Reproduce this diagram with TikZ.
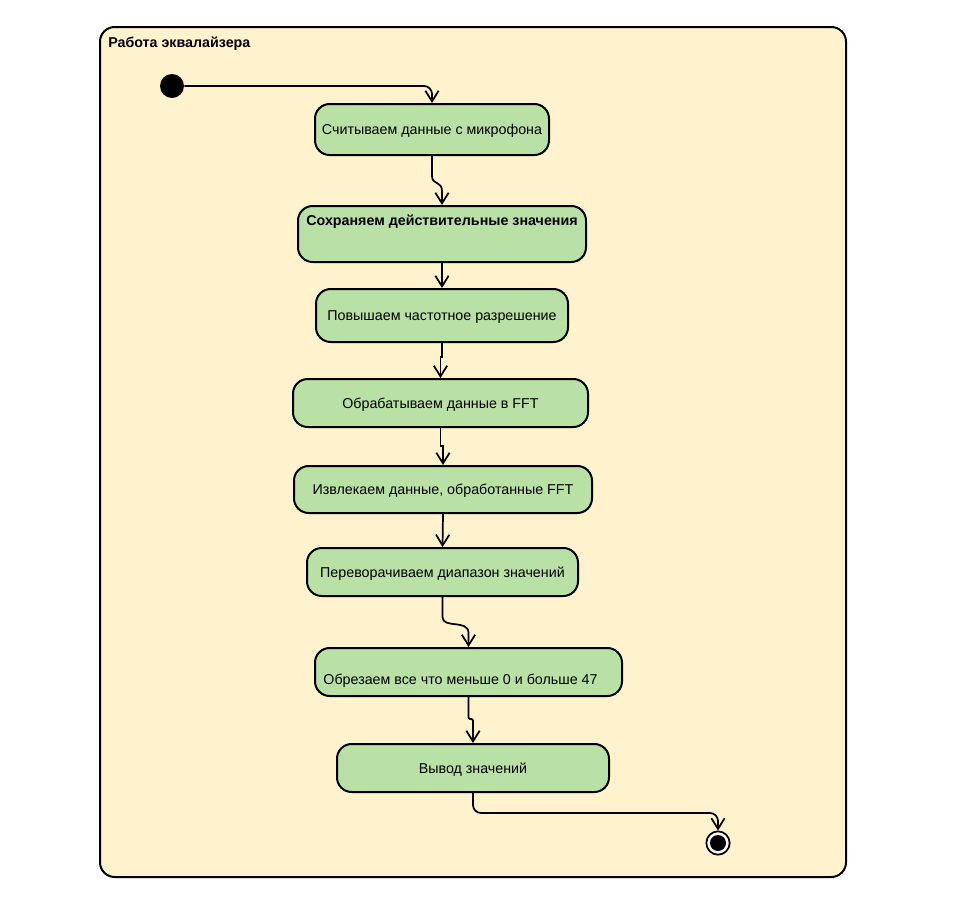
\documentclass[tikz,border=0pt]{standalone}
\usepackage{fontspec}
\setmainfont{Liberation Sans}
\usetikzlibrary{arrows.meta,calc}
\definecolor{framefill}{HTML}{FFF2CC}
\definecolor{actfill}{HTML}{B9E0A5}
\newcommand{\actfont}{\fontsize{10.7pt}{12.5pt}\selectfont}
\tikzset{
  act/.style 2 args={draw=black, fill=actfill, line width=1.5pt,
    rounded corners=11pt, minimum width=#1*0.75pt, minimum height=#2*0.75pt,
    inner sep=0pt, text depth=0pt, font=\actfont},
  flow/.style={draw=black, line width=1.3pt,
    -{Straight Barb[length=8pt,width=10pt,line width=1.3pt]}},
  startdot/.style={circle, fill=black, minimum size=18pt, inner sep=0pt},
  enddot/.style={circle, draw=black, line width=1.3pt, fill=white,
    minimum size=17.5pt, inner sep=0pt},
}
\begin{document}
\begin{tikzpicture}[x=0.75pt, y=-0.75pt]
\useasboundingbox (0,0) rectangle (958,904);

% enclosing activity frame
\draw[fill=framefill, line width=1.5pt, rounded corners=11pt] (100,27) rectangle (846,877);
\node[anchor=west, font=\bfseries\actfont, inner sep=0pt]
  (title) at (108,44) {Работа эквалайзера};

% initial and final states
\node[startdot] (start) at (172,86) {};
\node[enddot] (finish) at (718,843) {};
\fill (finish.center) circle (6pt);

% actions
\node[act={234}{51}] (b1) at (432,129.5) {Считываем данные с микрофона};
\node[act={288}{56}, font=\bfseries\actfont, text depth=20pt]
  (b2) at (442,234) {Сохраняем действительные значения};
\node[act={252}{53}] (b3) at (442,315.5) {Повышаем частотное разрешение};
\node[act={295}{48}] (b4) at (440.5,403) {Обрабатываем данные в FFT};
\node[act={298}{47}] (b5) at (443,489.5) {Извлекаем данные, обработанные FFT};
\node[act={271}{48}] (b6) at (442.5,572) {Переворачиваем диапазон значений};
\node[act={307}{48}, text height=18pt] (b7) at (468.5,672)
  {\hspace*{-12pt}Обрезаем все что меньше 0 и больше 47};
\node[act={272}{48}] (b8) at (473,768) {Вывод значений};

% control flow
\draw[flow, rounded corners=6pt] (start.east) -| (b1.north);
\draw[flow] (b1.south) -- ++(0,20)
  .. controls ++(0,9) and ($(b2.north)+(0,-24)$) .. ($(b2.north)+(0,-14)$) -- (b2.north);
\draw[flow] (b2.south) -- (b3.north);
\draw[flow] (b3.south) -- ++(0,14) -| (b4.north);
\draw[flow] (b4.south) -- ++(0,18) -| (b5.north);
\draw[flow] (b5.south) -- (b6.north);
\draw[flow] (b6.south) -- ++(0,20)
  .. controls ++(0,12) and ($(b7.north)+(0,-28)$) .. ($(b7.north)+(0,-14)$) -- (b7.north);
\draw[flow, rounded corners=1pt] (b7.south) -- ++(0,22) -| (b8.north);
\draw[flow, rounded corners=6pt] (b8.south) -- ++(0,20) -| (finish.north);
\end{tikzpicture}
\end{document}
